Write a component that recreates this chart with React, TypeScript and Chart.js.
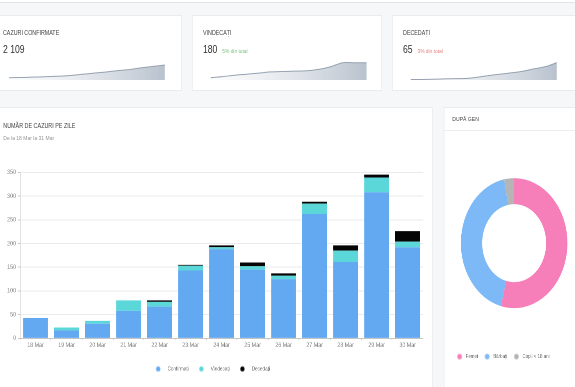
import React, { useEffect, useRef } from 'react';
import { Chart, registerables } from 'chart.js';

Chart.register(...registerables);

const FONT = "'Liberation Sans', Arial, Helvetica, sans-serif";
const SX = 0.82; // horizontal squeeze of the whole page

// ---------- data ----------
const dayLabels = ['18 Mar', '19 Mar', '20 Mar', '21 Mar', '22 Mar', '23 Mar', '24 Mar', '25 Mar', '26 Mar', '27 Mar', '28 Mar', '29 Mar', '30 Mar'];
const confirmedDaily = [43, 17, 31, 58, 67, 143, 188, 145, 125, 262, 161, 308, 192];
const healedDaily = [0, 6, 6, 22, 10, 10, 4, 7, 7, 22, 24, 31, 12];
const deceasedDaily = [0, 0, 0, 0, 3, 2, 4, 8, 5, 4, 11, 6, 22];
const yMax = 350;
const yStep = 50;

const sparkLabels = ['18', '19', '20', '21', '22', '23', '24', '25', '26', '27', '28', '29', '30', '31'];
const sparkConfirmed = [320, 350, 400, 450, 520, 620, 780, 950, 1100, 1300, 1450, 1700, 1900, 2109];
const sparkHealed = [24, 35, 50, 60, 72, 84, 88, 92, 96, 110, 138, 180, 180, 180];
const sparkDeceased = [2, 2, 3, 4, 5, 6, 11, 17, 22, 27, 33, 42, 50, 65];

const genderLabels = ['Femei', 'Bărbați', 'Copii < 18 ani'];
const genderValues = [54, 43, 3];

const C_BLUE = '#63a9f1';
const C_TEAL = '#5cd7d9';
const C_BLACK = '#050505';
const C_PINK = '#f67fb9';
const C_LBLUE = '#7cb9f6';
const C_GRAY = '#b5b5b5';

const origBarGen = (Chart.defaults as any).plugins.legend.labels.generateLabels;
const origDonutGen = (Chart.overrides as any).doughnut.plugins.legend.labels.generateLabels;

function dotImage(color: string, r: number, shift: number) {
  const c = document.createElement('canvas');
  const w = Math.ceil(2 * (r + Math.abs(shift)) + 2);
  const h = Math.ceil(2 * r + 2);
  c.width = w;
  c.height = h;
  const ctx = c.getContext('2d')!;
  ctx.fillStyle = color;
  ctx.beginPath();
  ctx.arc(w / 2 + shift, h / 2, r, 0, Math.PI * 2);
  ctx.fill();
  return c;
}

const legendShift = (dx: number) => ({
  id: 'legendShift',
  afterLayout(chart: any) {
    const l = chart.legend;
    if (l) {
      l.left += dx;
      l.right += dx;
    }
  },
});

function ChartBox({ left, top, width, height, make }: { left: number; top: number; width: number; height: number; make: () => any }) {
  const ref = useRef<HTMLCanvasElement>(null);
  useEffect(() => {
    const chart = new Chart(ref.current!, make());
    return () => chart.destroy();
  }, []);
  return (
    <canvas
      ref={ref}
      width={width}
      height={height}
      style={{ position: 'absolute', left, top, width, height }}
    />
  );
}

function makeBar() {
  const dots = [dotImage(C_BLUE, 2.6, -5.6), dotImage(C_TEAL, 2.6, -5.6), dotImage(C_BLACK, 2.6, -5.6)];
  return {
    type: 'bar',
    data: {
      labels: dayLabels,
      datasets: [
        { label: 'Confirmați', data: confirmedDaily, backgroundColor: C_BLUE },
        { label: 'Vindecați', data: healedDaily, backgroundColor: C_TEAL },
        { label: 'Decedați', data: deceasedDaily, backgroundColor: C_BLACK },
      ],
    },
    options: {
      responsive: false,
      animation: false,
      devicePixelRatio: 2,
      events: [],
      layout: { padding: { top: 22.3, bottom: 5.3, left: 0, right: 0 } },
      datasets: { bar: { categoryPercentage: 0.8, barPercentage: 1 } },
      scales: {
        x: {
          stacked: true,
          grid: { drawOnChartArea: false, tickLength: 2, tickColor: '#c8c8c8' },
          border: { color: '#c4c4c4' },
          ticks: { font: { size: 6.5, family: FONT }, color: '#8a8a8a', padding: 1, maxRotation: 0, autoSkip: false },
          afterFit: (s: any) => { s.height = 9.4; },
        },
        y: {
          stacked: true,
          min: 0,
          max: yMax,
          ticks: { stepSize: yStep, font: { size: 6.5, family: FONT }, color: '#959595', padding: 2.5 },
          grid: { color: '#ebebeb', tickLength: 2.4, tickColor: '#c8c8c8' },
          border: { color: '#c4c4c4' },
          afterFit: (s: any) => { s.width = 18.4; },
        },
      },
      plugins: {
        tooltip: { enabled: false },
        legend: {
          position: 'bottom',
          labels: {
            usePointStyle: true,
            font: { size: 5.7, family: FONT },
            color: '#666',
            padding: 18.2,
            generateLabels: (chart: any) =>
              origBarGen(chart).map((it: any, i: number) => ({ ...it, pointStyle: dots[i] })),
          },
        },
      },
    },
    plugins: [legendShift(1.5)],
  };
}

function makeDonut() {
  const dots = [dotImage(C_PINK, 2.8, -2), dotImage(C_LBLUE, 2.8, -2), dotImage(C_GRAY, 2.8, -2)];
  return {
    type: 'doughnut',
    data: {
      labels: genderLabels,
      datasets: [{ data: genderValues, backgroundColor: [C_PINK, C_LBLUE, C_GRAY], borderWidth: 0 }],
    },
    options: {
      responsive: false,
      animation: false,
      devicePixelRatio: 2,
      events: [],
      radius: 65,
      cutout: '60%',
      layout: { padding: { top: 2.9, bottom: 10.7, left: 0, right: 0 } },
      plugins: {
        tooltip: { enabled: false },
        legend: {
          position: 'bottom',
          labels: {
            usePointStyle: true,
            font: { size: 5.4, family: FONT },
            color: '#666',
            padding: 10.5,
            generateLabels: (chart: any) =>
              origDonutGen(chart).map((it: any, i: number) => ({ ...it, pointStyle: dots[i] })),
          },
        },
      },
    },
    plugins: [legendShift(-12)],
  };
}

function makeSpark(values: number[], max: number) {
  return () => ({
    type: 'line',
    data: {
      labels: sparkLabels,
      datasets: [
        {
          data: values,
          borderColor: '#96a2b0',
          borderWidth: 1,
          pointRadius: 0,
          tension: 0.3,
          fill: 'start',
          backgroundColor: (c: any) => {
            const a = c.chart.chartArea;
            if (!a) return 'rgba(0,0,0,0)';
            const g = c.chart.ctx.createLinearGradient(a.left, 0, a.right, 0);
            g.addColorStop(0, 'rgba(210,216,225,0.05)');
            g.addColorStop(1, 'rgba(160,173,189,0.75)');
            return g;
          },
        },
      ],
    },
    options: {
      responsive: false,
      animation: false,
      devicePixelRatio: 2,
      events: [],
      layout: { padding: 0 },
      scales: { x: { display: false }, y: { display: false, min: 0, max } },
      plugins: { legend: { display: false }, tooltip: { enabled: false } },
    },
  });
}

function Txt({ x, y, size, color, children, lh = 12 }: any) {
  return (
    <div
      style={{
        position: 'absolute',
        left: x,
        top: y - lh / 2,
        height: lh,
        lineHeight: lh + 'px',
        fontSize: size,
        color,
        whiteSpace: 'nowrap',
      }}
    >
      {children}
    </div>
  );
}

const cardStyle = (left: number, top: number, width: number, height: number): React.CSSProperties => ({
  position: 'absolute',
  left,
  top,
  width,
  height,
  background: '#fff',
  border: '1px solid #ebebeb',
  boxSizing: 'border-box',
});

export default function App() {
  const cardLefts = [-10, 234, 478];
  const cardWidths = [232, 232, 240];
  return (
    <div
      style={{
        position: 'absolute',
        left: 0,
        top: 0,
        width: 575,
        height: 387,
        overflow: 'hidden',
        background: '#f6f7f9',
        fontFamily: FONT,
      }}
    >
      <div
        style={{
          position: 'absolute',
          left: 0,
          top: 0,
          width: 701,
          height: 387,
          transform: `scaleX(${SX})`,
          transformOrigin: '0 0',
        }}
      >
        <div style={{ position: 'absolute', left: 0, top: 0, width: 701, height: 2, background: '#fff', borderBottom: '1px solid #e3e3e3' }} />
        {cardLefts.map((l, i) => (
          <div key={i} style={cardStyle(l, 15, cardWidths[i], 76)} />
        ))}
        <Txt x={3.7} y={33.3} size={6.5} color="#3f3f3f">CAZURI CONFIRMATE</Txt>
        <Txt x={247.6} y={33.3} size={6.5} color="#3f3f3f">VINDECAȚI</Txt>
        <Txt x={491.5} y={33.3} size={6.5} color="#3f3f3f">DECEDAȚI</Txt>
        <Txt x={3.7} y={48.8} size={10.5} color="#2e2e2e" lh={14}>2 109</Txt>
        <Txt x={247.6} y={48.8} size={10.5} color="#2e2e2e" lh={14}>
          180<span style={{ fontSize: 5.9, color: '#7fc283', marginLeft: 6 }}>5% din total</span>
        </Txt>
        <Txt x={491.5} y={48.8} size={10.5} color="#2e2e2e" lh={14}>
          65<span style={{ fontSize: 5.9, color: '#e98080', marginLeft: 6 }}>3% din total</span>
        </Txt>
        <ChartBox left={11} top={60} width={190} height={20} make={makeSpark(sparkConfirmed, 2800)} />
        <ChartBox left={257} top={60} width={190} height={20} make={makeSpark(sparkHealed, 208)} />
        <ChartBox left={501} top={60} width={178} height={20} make={makeSpark(sparkDeceased, 75)} />

        <div style={cardStyle(-7, 107, 534.7, 300)} />
        <Txt x={4} y={125.7} size={6.6} color="#3f3f3f">NUMĂR DE CAZURI PE ZILE</Txt>
        <Txt x={4} y={138} size={6.1} color="#959595">De la 18 Mar la 31 Mar</Txt>
        <ChartBox left={6} top={150} width={510} height={237} make={makeBar} />

        <div style={cardStyle(540.6, 107, 200, 300)} />
        <div style={{ position: 'absolute', left: 540.6, top: 129.5, width: 200, height: 1, background: '#ededed' }} />
        <Txt x={551.6} y={119.3} size={6.2} color="#3f3f3f">DUPĂ GEN</Txt>
        <ChartBox left={537} top={140} width={180} height={240} make={makeDonut} />
      </div>
    </div>
  );
}
